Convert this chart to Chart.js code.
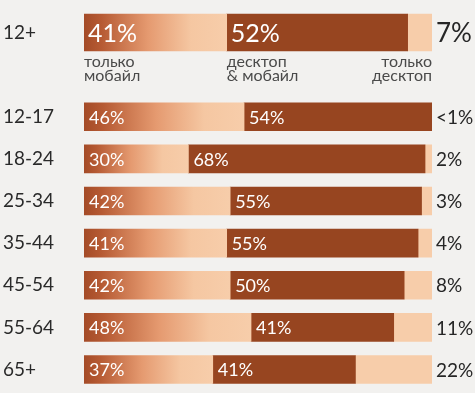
<!DOCTYPE html>
<html><head><meta charset="utf-8">
<script src="https://cdn.jsdelivr.net/npm/chart.js@4/dist/chart.umd.min.js"></script>
<style>
html,body{margin:0;padding:0;background:#f2f1ef;overflow:hidden;}
#wrap{position:relative;width:475px;height:402px;}
</style></head><body>
<div id="wrap"><canvas id="c"></canvas></div>
<script>
// ---- data ----
const totalLabel = '12+';
const totalMobileOnly = [41];
const totalBoth = [52];
const totalDesktopOnly = [7];
const totalDesktopOnlyLabel = ['7%'];
const ageGroups = ['12-17','18-24','25-34','35-44','45-54','55-64','65+'];
const mobileOnly = [46,30,42,41,42,48,37];
const desktopAndMobile = [54,68,55,55,50,41,41];
const desktopOnly = [0.5,2,3,4,8,11,22];
const desktopOnlyLabels = ['<1%','2%','3%','4%','8%','11%','22%'];
const segmentNames = ['только\nмобайл','десктоп\n& мобайл','только\nдесктоп'];

// ---- styles ----
const FONT = 'Lato';
const DARK = '#974520';
const PEACH = '#f7cdaa';

const categories = [totalLabel, ''].concat(ageGroups);
const topRow = arr => [arr[0]].concat(new Array(ageGroups.length + 1).fill(null));
const mainRows = arr => [null, null].concat(arr);

function mobileGradient(ctx){
  const chart = ctx.chart;
  if (!chart.chartArea || ctx.raw == null || !chart.scales.x) return PEACH;
  const xs = chart.scales.x;
  const x0 = xs.getPixelForValue(0), x1 = xs.getPixelForValue(ctx.raw);
  const g = chart.ctx.createLinearGradient(x0, 0, x1, 0);
  g.addColorStop(0, '#a44b27');
  g.addColorStop(0.12, '#b65a33');
  g.addColorStop(0.45, '#e59a70');
  g.addColorStop(0.75, '#f5c7a2');
  g.addColorStop(1, '#f7cdaa');
  return g;
}

const datasets = [
  {label:'top-mobile', role:'mob', isTotal:true, data: topRow(totalMobileOnly), backgroundColor: mobileGradient, barThickness:37},
  {label:'top-both', role:'both', isTotal:true, data: topRow(totalBoth), backgroundColor: DARK, barThickness:37},
  {label:'top-desk', role:'desk', isTotal:true, data: topRow(totalDesktopOnly), labels: topRow(totalDesktopOnlyLabel), backgroundColor: PEACH, barThickness:37},
  {label:'mobile', role:'mob', data: mainRows(mobileOnly), backgroundColor: mobileGradient, barThickness:28},
  {label:'both', role:'both', data: mainRows(desktopAndMobile), backgroundColor: DARK, barThickness:28},
  {label:'desk', role:'desk', data: mainRows(desktopOnly), labels: mainRows(desktopOnlyLabels), backgroundColor: PEACH, barThickness:28}
];

const labelPlugin = {
  id:'labels',
  afterDatasetsDraw(chart){
    const c = chart.ctx, area = chart.chartArea;
    c.save();
    chart.data.datasets.forEach((ds, di) => {
      const meta = chart.getDatasetMeta(di);
      meta.data.forEach((el, i) => {
        const v = ds.data[i];
        if (v == null) return;
        c.textBaseline = 'middle';
        c.textAlign = 'left';
        if (ds.role === 'desk') {
          c.fillStyle = '#262626';
          c.font = (ds.isTotal ? 26 : 19) + 'px ' + FONT;
          c.fillText(ds.labels[i], area.right + 4, el.y + 1);
        } else {
          c.fillStyle = '#ffffff';
          c.font = (ds.isTotal ? 25 : 18) + 'px ' + FONT;
          c.fillText(v + '%', Math.min(el.base, el.x) + (ds.isTotal ? 4 : 5), el.y + 1);
        }
        if (ds.isTotal) {
          const k = ds.role === 'mob' ? 0 : ds.role === 'both' ? 1 : 2;
          const lines = segmentNames[k].split('\n');
          c.font = '16px ' + FONT;
          c.fillStyle = '#4a4a4a';
          c.textBaseline = 'alphabetic';
          const y0 = el.y + el.height / 2 + 16;
          let x, align;
          if (k === 2) { x = Math.max(el.base, el.x); align = 'right'; }
          else { x = Math.min(el.base, el.x); align = 'left'; }
          c.textAlign = align;
          lines.forEach((ln, j) => c.fillText(ln, x, y0 + j * 14));
        }
      });
    });
    c.restore();
  }
};

new Chart(document.getElementById('c'), {
  type: 'bar',
  data: { labels: categories, datasets },
  options: {
    indexAxis: 'y',
    responsive: true,
    maintainAspectRatio: false,
    animation: false,
    layout: { padding: { left: 3, right: 43, top: 4, bottom: 2 } },
    plugins: { legend: { display: false }, tooltip: { enabled: false } },
    datasets: { bar: { borderWidth: 0 } },
    scales: {
      x: { stacked: true, min: 0, max: 100, display: false },
      y: {
        stacked: true,
        grid: { display: false },
        border: { display: false },
        ticks: { crossAlign: 'far', padding: 0, color: '#2a2a2a', font: { family: FONT, size: 19 } },
        afterFit(scale) { scale.width = 81; }
      }
    }
  },
  plugins: [labelPlugin]
});
</script>
</body></html>
